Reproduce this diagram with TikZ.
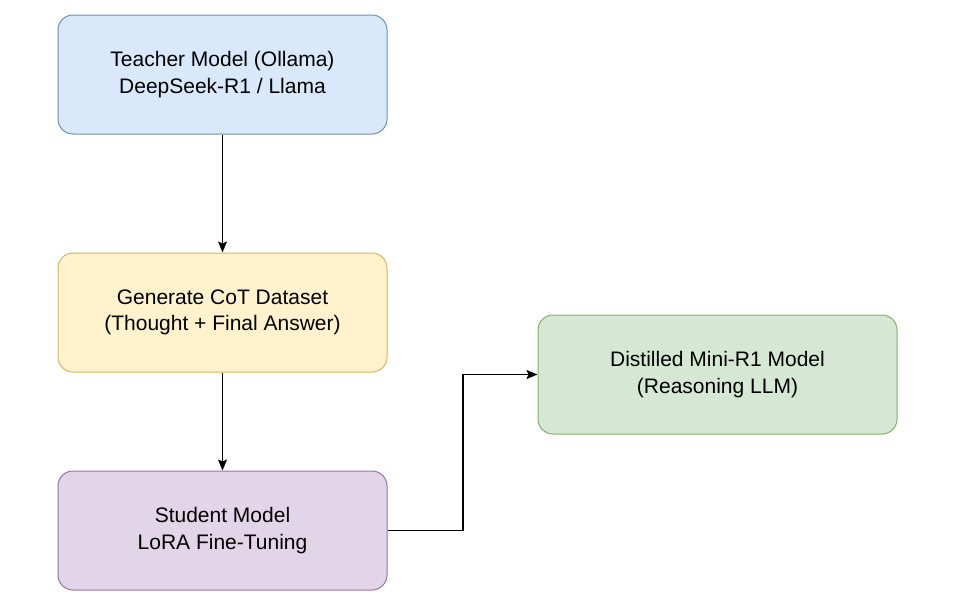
\documentclass[tikz,border=0pt]{standalone}
\usepackage{fontspec}
\setmainfont{Liberation Sans}
\usetikzlibrary{arrows.meta,positioning}
\definecolor{teacherfill}{HTML}{DAE8FC}
\definecolor{teacherdraw}{HTML}{6C8EBF}
\definecolor{datafill}{HTML}{FFF2CC}
\definecolor{datadraw}{HTML}{D6B656}
\definecolor{studentfill}{HTML}{E1D5E7}
\definecolor{studentdraw}{HTML}{9673A6}
\definecolor{distillfill}{HTML}{D5E8D4}
\definecolor{distilldraw}{HTML}{82B366}

\begin{document}
\begin{tikzpicture}[x=1pt,y=-1pt,
        box/.style={rectangle,rounded corners=15pt,line width=1pt,
          minimum width=329pt,minimum height=119pt,align=center,
          font=\fontsize{21}{26.5}\selectfont},
        teacher/.style={box,draw=teacherdraw,fill=teacherfill},
        dataset/.style={box,draw=datadraw,fill=datafill},
        student/.style={box,draw=studentdraw,fill=studentfill},
        distilled/.style={box,draw=distilldraw,fill=distillfill,minimum width=359pt},
        arrow/.style={-{Stealth[length=11pt,width=9pt,inset=2pt]},line width=1.3pt}]
        \useasboundingbox (0,0) rectangle (955,600);
        \node[teacher] (teacher) at (222.5,74.5) {Teacher Model (Ollama)\\DeepSeek-R1 / Llama};
        \node[dataset,below=118pt of teacher] (cot) {Generate CoT Dataset\\(Thought + Final Answer)};
        \node[student,below=98pt of cot] (student) {Student Model\\LoRA Fine-Tuning};
        \node[distilled] (mini) at (717.5,374.5) {Distilled Mini-R1 Model\\(Reasoning LLM)};
        \draw[arrow] (teacher) -- (cot);
        \draw[arrow] (cot) -- (student);
        \draw[arrow] (student.east) -| (463,374.5) -- (mini.west);
      \end{tikzpicture}
\end{document}
